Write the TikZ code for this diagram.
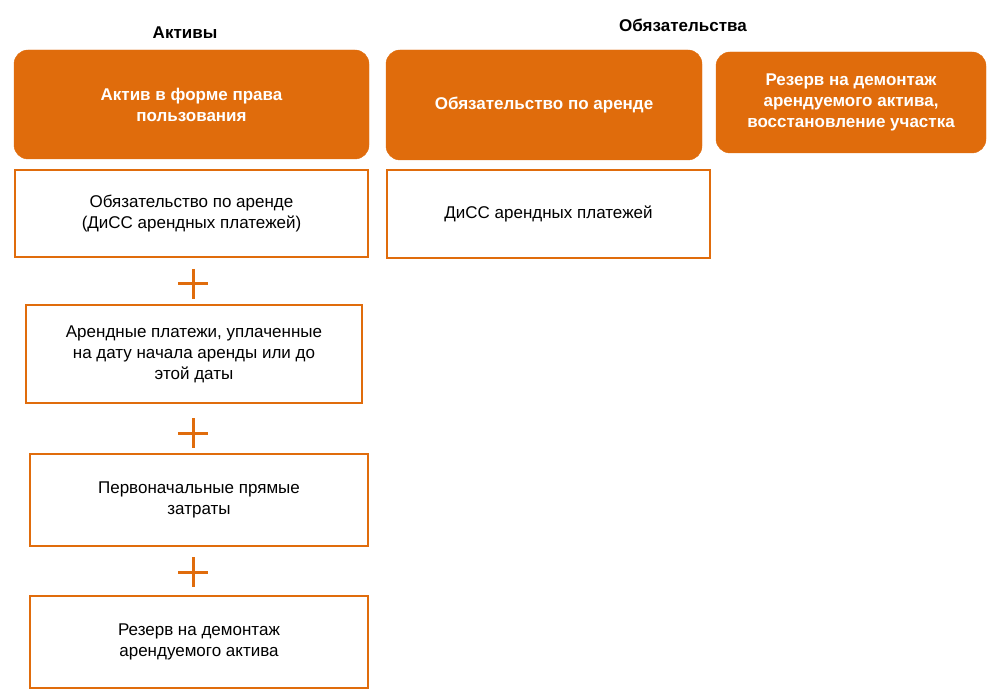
\documentclass[tikz,border=0pt]{standalone}
\usepackage{fontspec}
\setmainfont{Liberation Sans}
\definecolor{leaseorange}{RGB}{224,108,12}
\tikzset{
  head/.style={fill=leaseorange, draw=leaseorange, rounded corners=14pt, text=white, font=\bfseries\fontsize{17}{21}\selectfont, align=center, inner sep=0pt},
  part/.style={draw=leaseorange, line width=2.5pt, fill=white, font=\fontsize{17}{21}\selectfont, align=center, inner sep=0pt},
  title/.style={font=\bfseries\fontsize{17}{21}\selectfont},
  plusmark/.style={minimum size=30pt, inner sep=0pt, path picture={
    \draw[leaseorange, line width=3pt] (path picture bounding box.west) -- (path picture bounding box.east)
      (path picture bounding box.north) -- (path picture bounding box.south);}}
}
\begin{document}
\begin{tikzpicture}[x=1pt, y=-1pt]
\useasboundingbox (0,0) rectangle (1000,700);
%Titles
\node[title] (assets) at (185,33) {Активы};
\node[title] (liabs) at (683,25) {Обязательства};
%Headers
\node[head, minimum width=355pt, minimum height=109pt] (rou) at (191.5,104.5) {Актив в форме права\\пользования};
\node[head, minimum width=316pt, minimum height=110pt] (lease) at (544,105) {Обязательство по аренде};
\node[head, minimum width=270pt, minimum height=101pt] (provision) at (851,102.5) {Резерв на демонтаж\\арендуемого актива,\\восстановление участка};
%Components
\node[part, minimum width=353pt, minimum height=87pt] (pvasset) at (191.5,213.5) {Обязательство по аренде\\(ДиСС арендных платежей)};
\node[part, minimum width=323pt, minimum height=88pt] (pvlease) at (548.5,214) {ДиСС арендных платежей};
\node[plusmark] (plusa) at (193,284) {};
\node[part, minimum width=336pt, minimum height=98pt] (prepaid) at (194,354) {Арендные платежи, уплаченные\\на дату начала аренды или до\\этой даты};
\node[plusmark] (plusb) at (193,433) {};
\node[part, minimum width=338pt, minimum height=92pt] (direct) at (199,500) {Первоначальные прямые\\затраты};
\node[plusmark] (plusc) at (193,572) {};
\node[part, minimum width=338pt, minimum height=92pt] (dismantle) at (199,642) {Резерв на демонтаж\\арендуемого актива};
\end{tikzpicture}
\end{document}
